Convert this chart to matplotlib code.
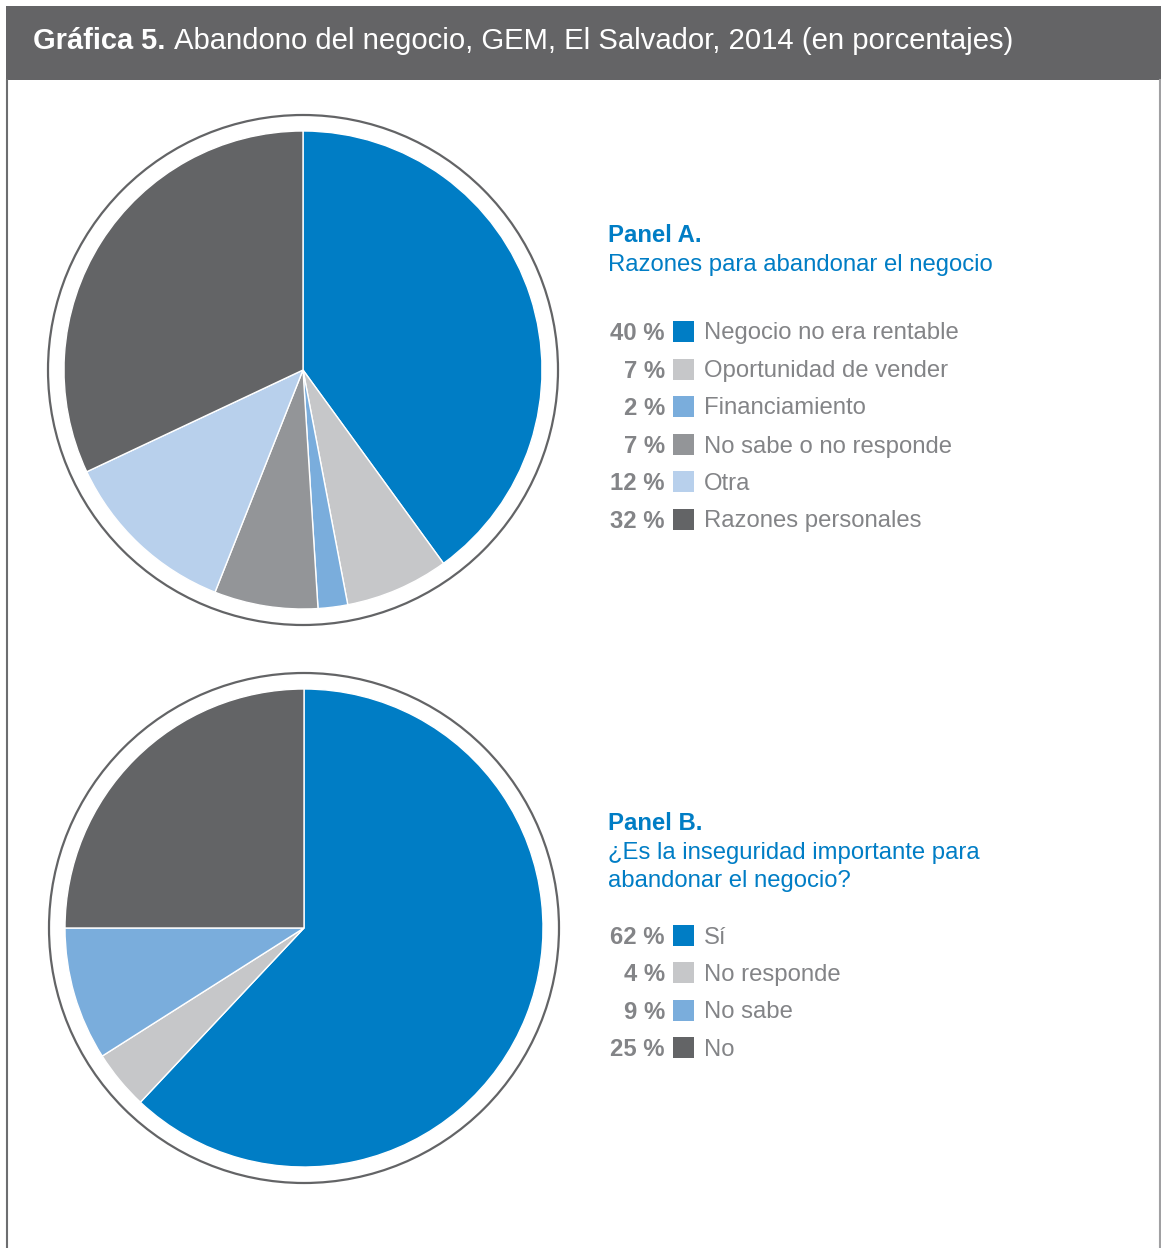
import matplotlib
matplotlib.use("Agg")
import matplotlib.pyplot as plt
from matplotlib.patches import Rectangle, Circle

plt.rcParams['font.family'] = ['Liberation Sans', 'DejaVu Sans']

# Panel A: reasons for abandoning the business
labels_a = ["Negocio no era rentable", "Oportunidad de vender", "Financiamiento",
            "No sabe o no responde", "Otra", "Razones personales"]
values_a = [40, 7, 2, 7, 12, 32]
colors_a = ["#007dc5", "#c6c7c9", "#7aaddc", "#939598", "#b8d0ec", "#636466"]

# Panel B: is insecurity important for abandoning the business
labels_b = ["Sí", "No responde", "No sabe", "No"]
values_b = [62, 4, 9, 25]
colors_b = ["#007dc5", "#c6c7c9", "#7aaddc", "#636466"]

W, H = 1161, 1248
DPI = 100
fig = plt.figure(figsize=(W / DPI, H / DPI), dpi=DPI)

# overlay axes in pixel coordinates for frame and text
bg = fig.add_axes([0, 0, 1, 1])
bg.set_xlim(0, W)
bg.set_ylim(H, 0)
bg.axis("off")

HEADER = "#646466"
BLUE = "#007dc5"
GRAY_TXT = "#838487"
FS = 17.2

bg.add_patch(Rectangle((6, 6), W - 6, 74, facecolor=HEADER, edgecolor="none"))
bg.plot([7, 7], [80, H], color="#6d6e70", lw=1.5)
bg.plot([1159.5, 1159.5], [80, H], color="#a0a0a2", lw=1.5)

bg.text(33, 41, "Gráfica 5.", color="white", fontsize=20.9, fontweight="bold",
        va="center", ha="left")
bg.text(174, 41, "Abandono del negocio, GEM, El Salvador, 2014 (en porcentajes)",
        color="white", fontsize=21.1, va="center", ha="left")


def draw_pie(cx, cy, values, colors):
    r_px = 239
    ring_px = 255
    half = 275
    ax = fig.add_axes([(cx - half) / W, 1 - (cy + half) / H, 2 * half / W, 2 * half / H])
    ax.pie(values, colors=colors, startangle=90, counterclock=False, radius=1,
           wedgeprops=dict(edgecolor="white", linewidth=1.0))
    lim = half / r_px
    ax.set_xlim(-lim, lim)
    ax.set_ylim(-lim, lim)
    ax.set_aspect("equal")
    ax.add_patch(Circle((0, 0), ring_px / r_px, facecolor="none", edgecolor="#636466",
                        linewidth=1.6))
    ax.axis("off")


def draw_legend(title_lines, y_title, y_rows, values, labels, colors):
    bg.text(608, y_title, title_lines[0], color=BLUE, fontsize=FS, fontweight="bold",
            va="center_baseline", ha="left")
    for i, line in enumerate(title_lines[1:]):
        bg.text(608, y_title + 29 * (i + 1), line, color=BLUE, fontsize=FS,
                va="center_baseline", ha="left")
    for y, v, lab, c in zip(y_rows, values, labels, colors):
        bg.text(665, y, f"{v} %", color=GRAY_TXT, fontsize=FS, fontweight="bold",
                va="center_baseline", ha="right")
        bg.add_patch(Rectangle((673, y - 10.5), 21, 21, facecolor=c, edgecolor="none"))
        bg.text(704, y, lab, color=GRAY_TXT, fontsize=FS, va="center_baseline", ha="left")


draw_pie(303, 370, values_a, colors_a)
draw_pie(304, 928, values_b, colors_b)

draw_legend(["Panel A.", "Razones para abandonar el negocio"], 233,
            [331, 369, 406, 444, 481, 519], values_a, labels_a, colors_a)
draw_legend(["Panel B.", "¿Es la inseguridad importante para", "abandonar el negocio?"], 821,
            [935, 972, 1010, 1047], values_b, labels_b, colors_b)

fig.savefig("out.png", dpi=DPI, facecolor="white")
